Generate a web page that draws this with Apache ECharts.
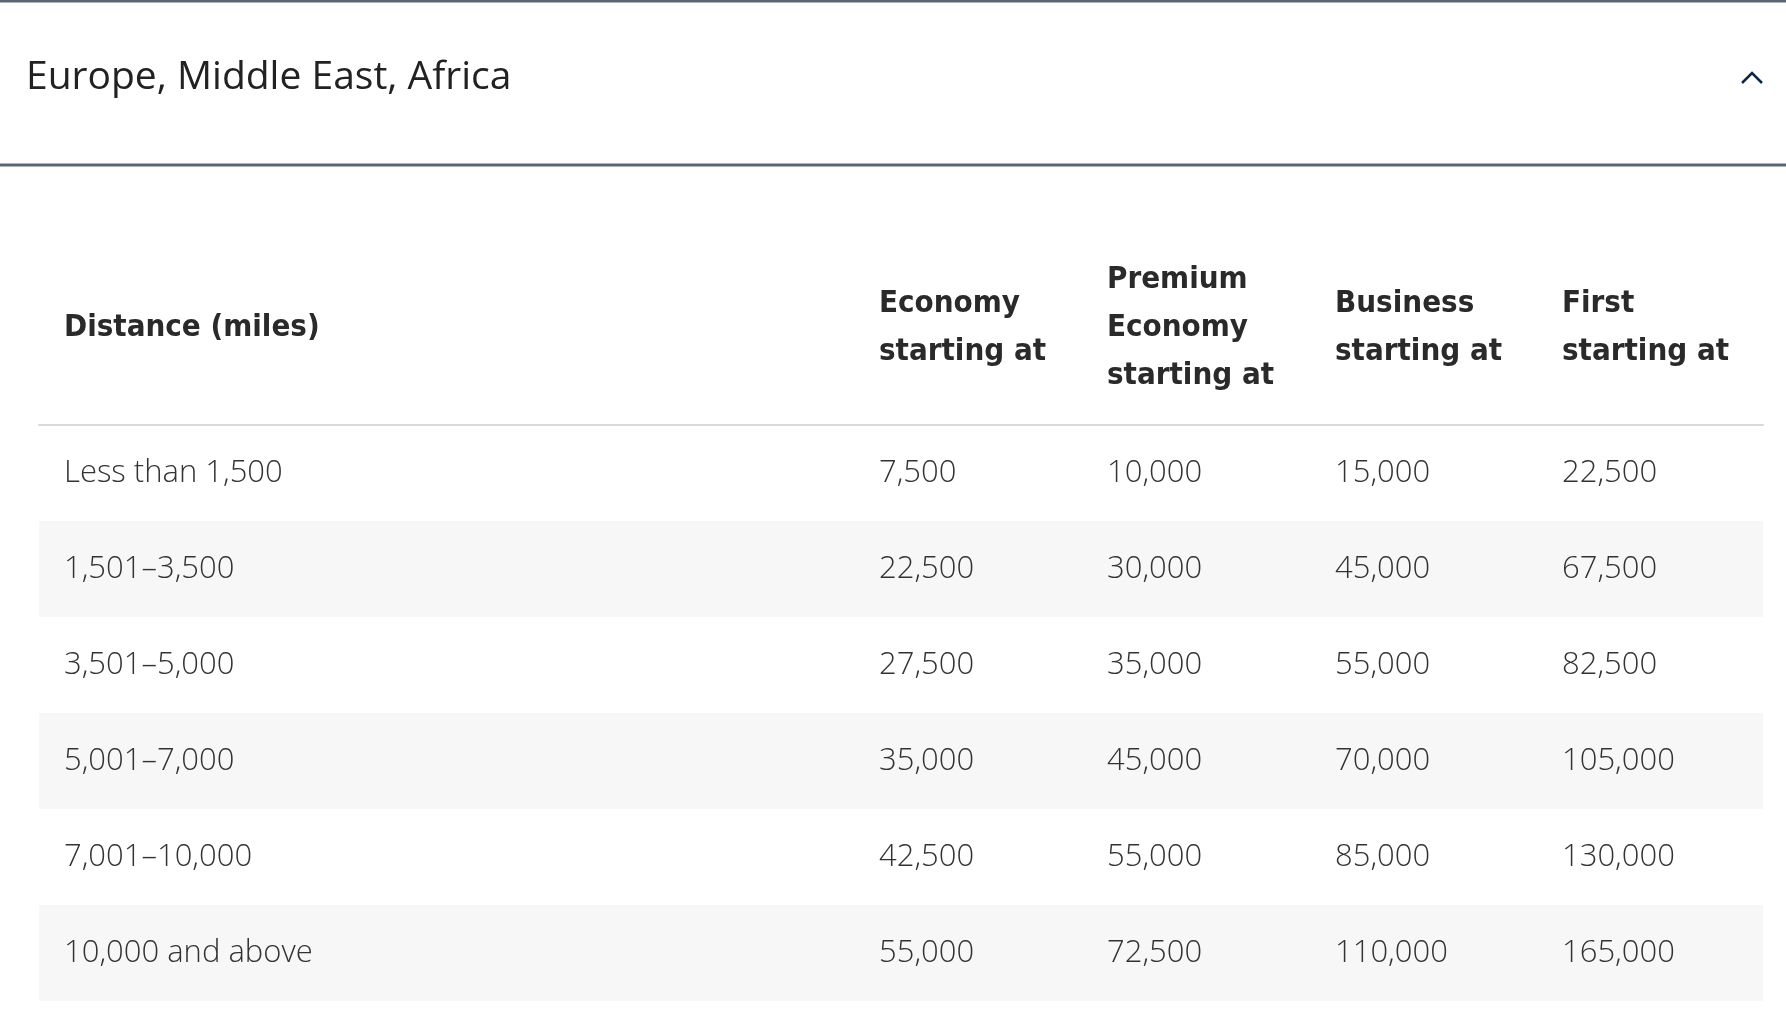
<!DOCTYPE html>
<html>
<head>
<meta charset="utf-8">
<script src="https://cdn.jsdelivr.net/npm/echarts@6/dist/echarts.min.js"></script>
<style>
  html, body { margin: 0; padding: 0; background: #fff; }
  #chart { width: 1786px; height: 1010px; }
</style>
</head>
<body>
<div id="chart"></div>
<script>
// table data
var distances = ['Less than 1,500', '1,501\u20133,500', '3,501\u20135,000', '5,001\u20137,000', '7,001\u201310,000', '10,000 and above'];
var headers = ['Distance (miles)', 'Economy\nstarting at', 'Premium\nEconomy\nstarting at', 'Business\nstarting at', 'First\nstarting at'];
var economy = [7500, 22500, 27500, 35000, 42500, 55000];
var premiumEconomy = [10000, 30000, 35000, 45000, 55000, 72500];
var business = [15000, 45000, 55000, 70000, 85000, 110000];
var first = [22500, 67500, 82500, 105000, 130000, 165000];

// layout: left edge of each column's text, relative to the table's left
var colLeft = [25, 840, 1068, 1296, 1523];
var FONT = '"Open Sans", Lato, sans-serif';
var HEAD_FONT = '"DejaVu Sans Condensed", "DejaVu Sans", sans-serif';

var chart = echarts.init(document.getElementById('chart'));

function cellSeries(values, col) {
  return {
    type: 'custom',
    data: values.map(function (v, i) { return [0, i, v]; }),
    encode: { x: 0, y: 1 },
    renderItem: function (params, api) {
      var p = api.coord([0, api.value(1)]);
      return {
        type: 'text',
        x: params.coordSys.x + colLeft[col],
        y: p[1],
        style: {
          text: api.value(2).toLocaleString('en-US'),
          fill: '#333333',
          font: '300 31px ' + FONT,
          align: 'left',
          verticalAlign: 'middle'
        }
      };
    }
  };
}

var option = {
  backgroundColor: '#ffffff',
  title: {
    text: 'Europe, Middle East, Africa',
    left: 21,
    top: 53,
    textStyle: { fontFamily: FONT, fontSize: 39, fontWeight: 400, color: '#222222' }
  },
  grid: { left: 39, right: 23, top: 425, height: 576 },
  xAxis: {
    type: 'value',
    min: 0,
    max: 1,
    position: 'top',
    axisLine: { show: true, lineStyle: { color: '#d9d9d9', width: 2 } },
    axisTick: { show: false },
    axisLabel: { show: false },
    splitLine: { show: false }
  },
  yAxis: {
    type: 'category',
    inverse: true,
    data: distances,
    axisLine: { show: false },
    axisTick: { show: false },
    splitLine: { show: false },
    splitArea: { show: true, areaStyle: { color: ['#ffffff', '#f7f7f7'] } },
    axisLabel: {
      inside: true,
      margin: 25,
      align: 'left',
      color: '#333333',
      fontFamily: FONT,
      fontWeight: 300,
      fontSize: 31
    }
  },
  graphic: [
    { type: 'line', shape: { x1: 0, y1: 1, x2: 1786, y2: 1 }, style: { stroke: '#5c6573', lineWidth: 3 } },
    { type: 'line', shape: { x1: 0, y1: 165, x2: 1786, y2: 165 }, style: { stroke: '#5c6573', lineWidth: 3 } },
    { type: 'polyline', shape: { points: [[1742, 83], [1752, 73], [1762, 83]] }, style: { stroke: '#0d2644', lineWidth: 2.5, fill: null } }
  ],
  series: [
    {
      type: 'custom',
      data: headers.map(function (h, i) { return [0, 0, i]; }),
      encode: { x: 0, y: 1 },
      renderItem: function (params, api) {
        var i = api.value(2);
        return {
          type: 'text',
          x: params.coordSys.x + colLeft[i],
          y: params.coordSys.y - 97,
          style: {
            text: headers[i],
            fill: '#2a2a2a',
            font: 'bold 31px ' + HEAD_FONT,
            lineHeight: 48,
            align: 'left',
            verticalAlign: 'middle'
          }
        };
      }
    },
    cellSeries(economy, 1),
    cellSeries(premiumEconomy, 2),
    cellSeries(business, 3),
    cellSeries(first, 4)
  ]
};

chart.setOption(option);
</script>
</body>
</html>
